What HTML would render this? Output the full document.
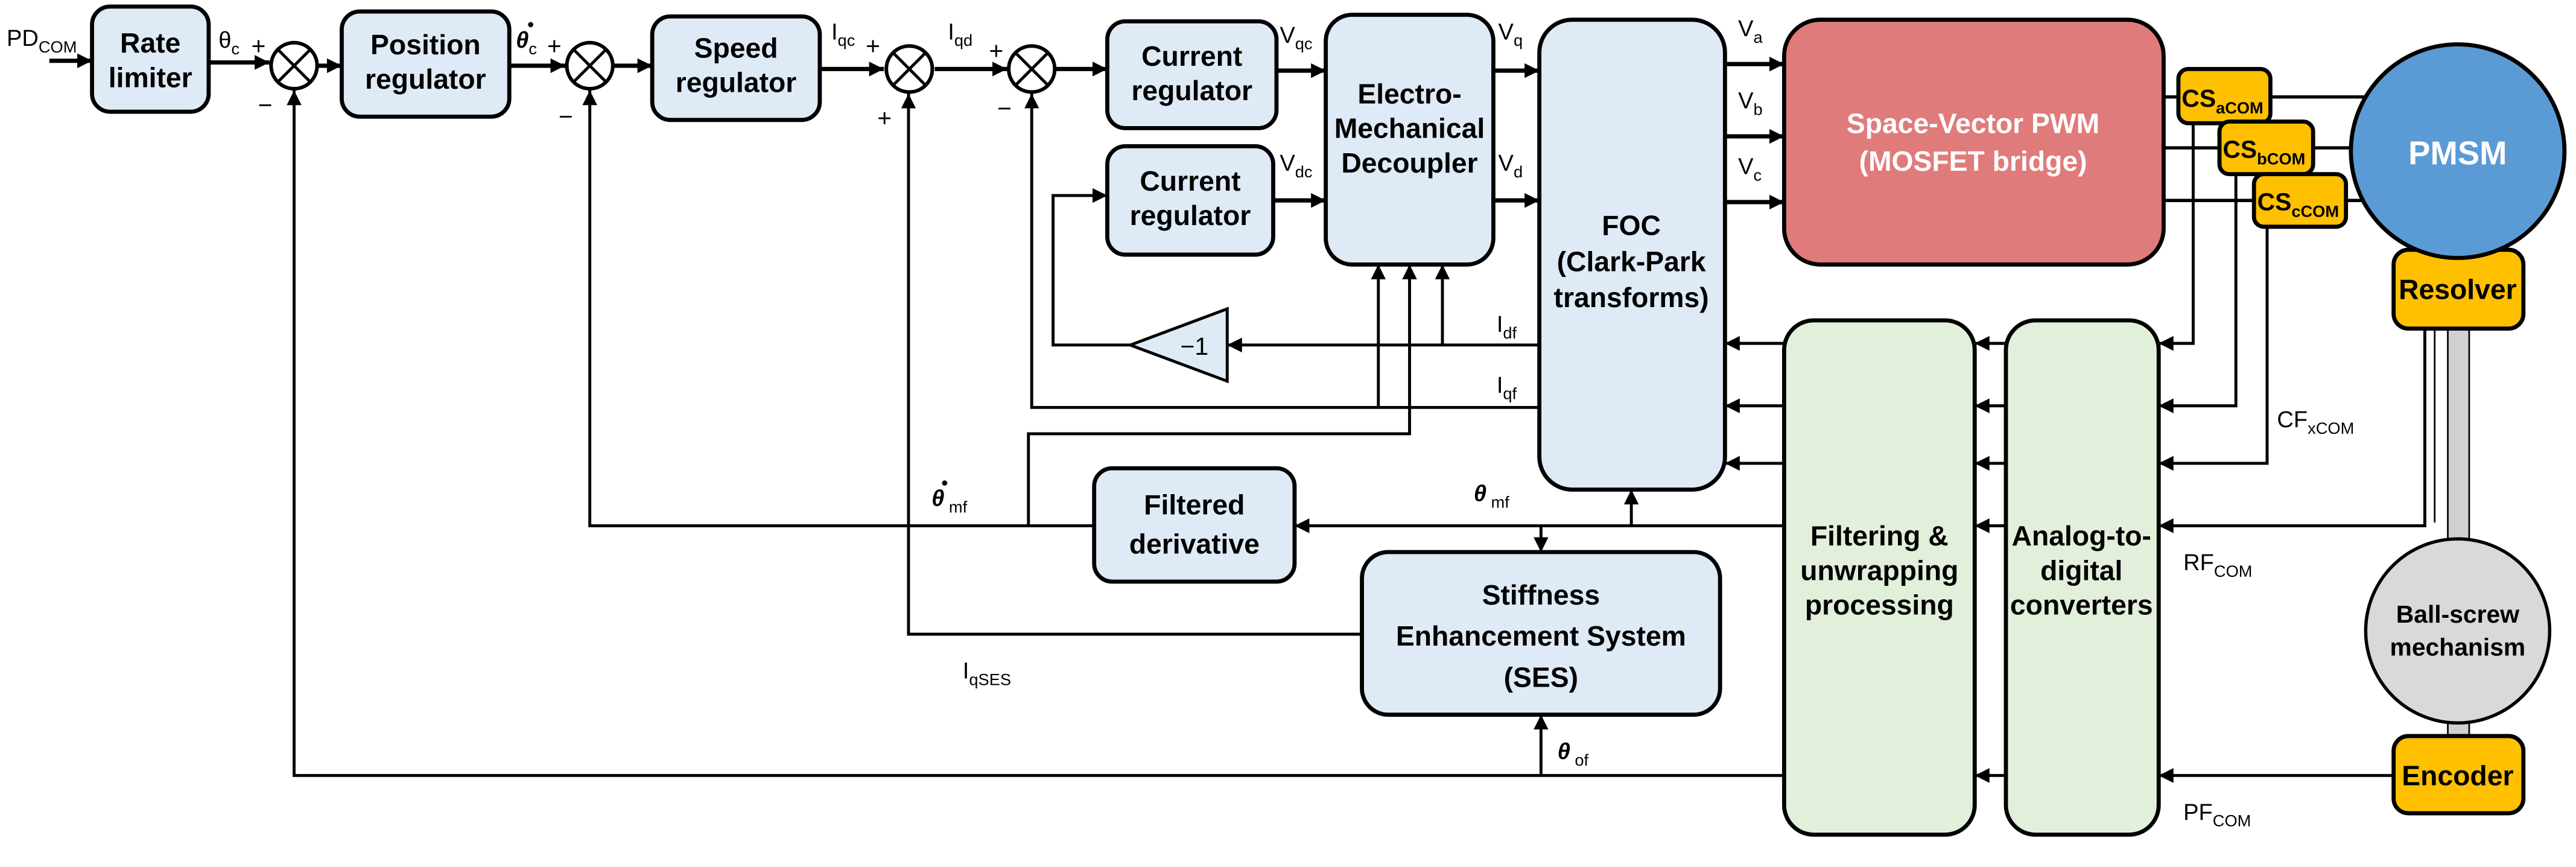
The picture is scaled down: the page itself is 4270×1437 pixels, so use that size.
<!DOCTYPE html>
<html><head><meta charset="utf-8"><style>
html,body{margin:0;padding:0;background:#fff;}
svg{display:block;}
text{font-family:"Liberation Sans",sans-serif;}
.b{font-weight:bold;font-size:17px;text-anchor:middle;}
</style></head><body>
<svg width="4270" height="1437" viewBox="0 0 1568 527.7" xmlns="http://www.w3.org/2000/svg">
<defs>
<marker id="a" viewBox="0 0 10 10" refX="10" refY="5" markerWidth="9" markerHeight="9" markerUnits="userSpaceOnUse" orient="auto"><path d="M0,0L10,5L0,10z" fill="#000"/></marker>
</defs>
<rect width="1568" height="528" fill="#fff"/>

<g fill="none" stroke="#000" stroke-width="2.6" marker-end="url(#a)">
<path d="M30,37H56"/>
<path d="M127,38H164"/>
<path d="M194,40H208"/>
<path d="M310,40H344"/>
<path d="M374,40H397"/>
<path d="M499,42H538"/>
<path d="M569,42H613"/>
<path d="M643,42H674"/>
<path d="M777,43H807"/>
<path d="M775,122H807"/>
<path d="M909,43H937"/>
<path d="M909,122H937"/>
<path d="M1050,39H1086"/>
<path d="M1050,83H1086"/>
<path d="M1050,123H1086"/>
</g>
<g fill="none" stroke="#000" stroke-width="2">
<path d="M1317,59H1440"/>
<path d="M1317,90H1434"/>
<path d="M1317,122H1440"/>
</g>
<g fill="none" stroke="#000" stroke-width="1.8" marker-end="url(#a)">
<path d="M1335,75V209H1314"/>
<path d="M1361,106V247H1314"/>
<path d="M1380,138V282H1314"/>
<path d="M1221,209H1202"/>
<path d="M1221,247H1202"/>
<path d="M1221,282H1202"/>
<path d="M1221,320H1202"/>
<path d="M1221,472H1202"/>
<path d="M1086,209H1050"/>
<path d="M1086,247H1050"/>
<path d="M1086,282H1050"/>
<path d="M1476,200V320H1314"/>
<path d="M1457,472H1314"/>
<path d="M1086,320H788"/>
<path d="M993,320V298"/>
<path d="M938,320V336"/>
<path d="M626,320V264H858V161"/>
<path d="M666,320H359V55"/>
<path d="M937,210H747"/>
<path d="M878,210V161"/>
<path d="M688,210H641V119H674"/>
<path d="M936,248H628V57"/>
<path d="M839,248V161"/>
<path d="M829,386H553V57"/>
<path d="M1086,472H179V55"/>
<path d="M938,472V435"/>
</g>

<g fill="#fff" stroke="#000" stroke-width="2.2">
<circle cx="179" cy="40" r="14"/>
<circle cx="359" cy="40" r="14"/>
<circle cx="553.5" cy="42" r="14"/>
<circle cx="628" cy="42" r="14"/>
</g>
<g stroke="#000" stroke-width="1.8">
<path d="M169,30L189,50M189,30L169,50"/>
<path d="M349,30L369,50M369,30L349,50"/>
<path d="M543.5,32L563.5,52M563.5,32L543.5,52"/>
<path d="M618,32L638,52M638,32L618,52"/>
</g>
<g font-size="15">
<text x="153" y="33">+</text><text x="157" y="69">−</text>
<text x="333" y="33">+</text><text x="340" y="76">−</text>
<text x="527" y="33">+</text><text x="534" y="77">+</text>
<text x="602" y="36">+</text><text x="607" y="71">−</text>
</g>

<g fill="#DEEAF6" stroke="#000" stroke-width="2.5">
<rect x="56" y="4" width="71" height="64" rx="11"/>
<rect x="208" y="7" width="102" height="64" rx="11"/>
<rect x="397" y="10" width="102" height="63" rx="11"/>
<rect x="674" y="13" width="103" height="65" rx="11"/>
<rect x="674" y="89" width="101" height="66" rx="11"/>
<rect x="807" y="9" width="102" height="152" rx="16"/>
<rect x="937" y="12" width="113" height="286" rx="20"/>
<rect x="666" y="285" width="122" height="69" rx="11"/>
<rect x="829" y="336" width="218" height="99" rx="16"/>
<polygon points="688,210 747,188 747,232" stroke-width="1.8"/>
</g>
<g fill="#E2EFDA" stroke="#000" stroke-width="2.5">
<rect x="1086" y="195" width="116" height="313" rx="18"/>
<rect x="1221" y="195" width="93" height="313" rx="18"/>
</g>
<rect x="1086" y="12" width="231" height="149" rx="22" fill="#E07B7B" stroke="#000" stroke-width="2.5"/>

<rect x="1490" y="198" width="13" height="252" fill="#D0D0D0" stroke="#000" stroke-width="1"/>
<line x1="1482" y1="200" x2="1482" y2="318" stroke="#000" stroke-width="1"/>
<circle cx="1496" cy="384" r="56" fill="#D9D9D9" stroke="#000" stroke-width="2"/>
<g fill="#FFC000" stroke="#000" stroke-width="2.5">
<rect x="1326" y="42" width="56" height="33" rx="6"/>
<rect x="1351" y="74" width="57" height="32" rx="6"/>
<rect x="1372" y="106" width="56" height="32" rx="6"/>
<rect x="1457" y="152" width="79" height="48" rx="9"/>
<rect x="1457" y="448" width="79" height="47" rx="9"/>
</g>
<ellipse cx="1496" cy="92" rx="65" ry="65" fill="#5B9BD5" stroke="#000" stroke-width="2.5"/>

<text class="b" x="91.5" y="32">Rate</text><text class="b" x="91.5" y="53">limiter</text>
<text class="b" x="259" y="33">Position</text><text class="b" x="259" y="54">regulator</text>
<text class="b" x="448" y="35">Speed</text><text class="b" x="448" y="56">regulator</text>
<text class="b" x="725.5" y="40">Current</text><text class="b" x="725.5" y="61">regulator</text>
<text class="b" x="724.5" y="116">Current</text><text class="b" x="724.5" y="137">regulator</text>
<text class="b" x="858" y="63">Electro-</text><text class="b" x="858" y="84">Mechanical</text><text class="b" x="858" y="105">Decoupler</text>
<text class="b" x="993" y="143">FOC</text><text class="b" x="993" y="165">(Clark-Park</text><text class="b" x="993" y="187">transforms)</text>
<text class="b" x="1201" y="81" fill="#fff">Space-Vector PWM</text><text class="b" x="1201" y="104" fill="#fff">(MOSFET bridge)</text>
<text class="b" x="727" y="313">Filtered</text><text class="b" x="727" y="337">derivative</text>
<text class="b" x="938" y="368">Stiffness</text><text class="b" x="938" y="393">Enhancement System</text><text class="b" x="938" y="418">(SES)</text>
<text class="b" x="1144" y="332">Filtering &amp;</text><text class="b" x="1144" y="353">unwrapping</text><text class="b" x="1144" y="374">processing</text>
<text class="b" x="1267" y="332">Analog-to-</text><text class="b" x="1267" y="353">digital</text><text class="b" x="1267" y="374">converters</text>
<text class="b" x="1496" y="100" fill="#fff" style="font-size:20px">PMSM</text>
<text class="b" x="1496" y="182">Resolver</text>
<text class="b" x="1496" y="478">Encoder</text>
<text class="b" x="1496" y="379" style="font-size:15px">Ball-screw</text><text class="b" x="1496" y="399" style="font-size:15px">mechanism</text>
<text class="b" x="727" y="216" style="font-size:15px;font-weight:normal">−1</text>

<g font-weight="bold" font-size="15" text-anchor="start">
<text x="1328" y="65">CS<tspan font-size="10" dy="4">aCOM</tspan></text>
<text x="1353" y="96">CS<tspan font-size="10" dy="4">bCOM</tspan></text>
<text x="1374" y="128">CS<tspan font-size="10" dy="4">cCOM</tspan></text>
</g>

<g font-size="14">
<text x="4" y="28">PD<tspan font-size="10" dy="4">COM</tspan></text>
<text x="133" y="29">θ<tspan font-size="10" dy="4">c</tspan></text>
<text x="314" y="29" font-style="italic" font-weight="bold">θ<tspan font-size="10" dy="4" font-style="normal" font-weight="normal">c</tspan></text>
<circle cx="323" cy="15" r="1.6" fill="#000"/>
<text x="506" y="24">I<tspan font-size="10" dy="4">qc</tspan></text>
<text x="577" y="24">I<tspan font-size="10" dy="4">qd</tspan></text>
<text x="779" y="26">V<tspan font-size="10" dy="4">qc</tspan></text>
<text x="779" y="104">V<tspan font-size="10" dy="4">dc</tspan></text>
<text x="912" y="24">V<tspan font-size="10" dy="4">q</tspan></text>
<text x="912" y="104">V<tspan font-size="10" dy="4">d</tspan></text>
<text x="1058" y="22">V<tspan font-size="10" dy="4">a</tspan></text>
<text x="1058" y="66">V<tspan font-size="10" dy="4">b</tspan></text>
<text x="1058" y="106">V<tspan font-size="10" dy="4">c</tspan></text>
<text x="911" y="202">I<tspan font-size="10" dy="4">df</tspan></text>
<text x="911" y="239">I<tspan font-size="10" dy="4">qf</tspan></text>
<text x="567" y="308" font-style="italic" font-weight="bold">θ<tspan font-size="10" dy="4" font-style="normal" font-weight="normal"> mf</tspan></text>
<circle cx="575" cy="294" r="1.6" fill="#000"/>
<text x="897" y="305" font-style="italic" font-weight="bold">θ<tspan font-size="10" dy="4" font-style="normal" font-weight="normal"> mf</tspan></text>
<text x="948" y="462" font-style="italic" font-weight="bold">θ<tspan font-size="10" dy="4" font-style="normal" font-weight="normal"> of</tspan></text>
<text x="586" y="413">I<tspan font-size="10" dy="4">qSES</tspan></text>
<text x="1386" y="260">CF<tspan font-size="10" dy="4">xCOM</tspan></text>
<text x="1329" y="347">RF<tspan font-size="10" dy="4">COM</tspan></text>
<text x="1329" y="499">PF<tspan font-size="10" dy="4">COM</tspan></text>
</g>
</svg>
</body></html>
